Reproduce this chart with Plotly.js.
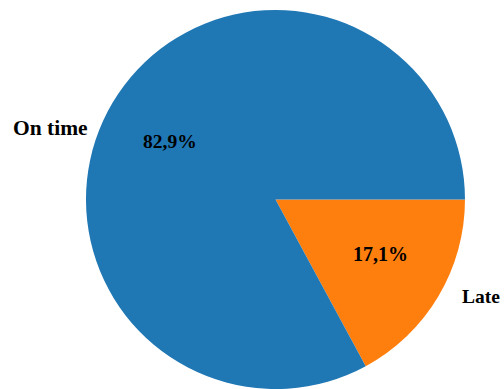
<!DOCTYPE html>
<html>
<head>
<meta charset="utf-8">
<script src="https://cdn.plot.ly/plotly-3.0.1.min.js"></script>
<style>html,body{margin:0;padding:0;background:#fff;}#chart{width:504px;height:389px;}</style>
</head>
<body>
<div id="chart"></div>
<script>
const labels = ["Late", "On time"];
const values = [17.1, 82.9];
const colors = ["#ff7f0e", "#1f77b4"];

const W = 504, H = 389;
const domain = {x: [0.1696, 0.9236], y: [0, 0.9743]};
const fontFamily = "'Liberation Serif', 'Times New Roman', serif";

// text placement (pixel centres of label texts), layout only
const labelPos = [{x: 480.8, y: 296.3, size: 19.5}, {x: 50.3, y: 128, size: 21.5}];
const pctPos = [{x: 380.5, y: 253.5, size: 20}, {x: 169.5, y: 141.5, size: 19.5}];

const total = values.reduce((a, b) => a + b, 0);
function fmtPct(v) {
  return (v / total * 100).toFixed(1).replace(".", ",") + "%";
}

const pieTrace = {
  type: "pie",
  labels: labels,
  values: values,
  sort: false,
  direction: "clockwise",
  rotation: 90,
  domain: domain,
  marker: {colors: colors, line: {width: 0}},
  textinfo: "none",
  hoverinfo: "label+percent",
  showlegend: false
};

const annotations = [];
labels.forEach((lab, i) => {
  annotations.push({
    xref: "paper", yref: "paper",
    x: labelPos[i].x / W, y: 1 - labelPos[i].y / H,
    xanchor: "center", yanchor: "middle",
    text: "<b>" + lab + "</b>", showarrow: false,
    font: {family: fontFamily, size: labelPos[i].size, color: "#000"}
  });
  annotations.push({
    xref: "paper", yref: "paper",
    x: pctPos[i].x / W, y: 1 - pctPos[i].y / H,
    xanchor: "center", yanchor: "middle",
    text: "<b>" + fmtPct(values[i]) + "</b>", showarrow: false,
    font: {family: fontFamily, size: pctPos[i].size, color: "#000"}
  });
});

Plotly.newPlot("chart", [pieTrace], {
  width: W,
  height: H,
  margin: {l: 0, r: 0, t: 0, b: 0},
  paper_bgcolor: "#fff",
  separators: ",.",
  showlegend: false,
  annotations: annotations
}, {displayModeBar: false, staticPlot: true});
</script>
</body>
</html>
